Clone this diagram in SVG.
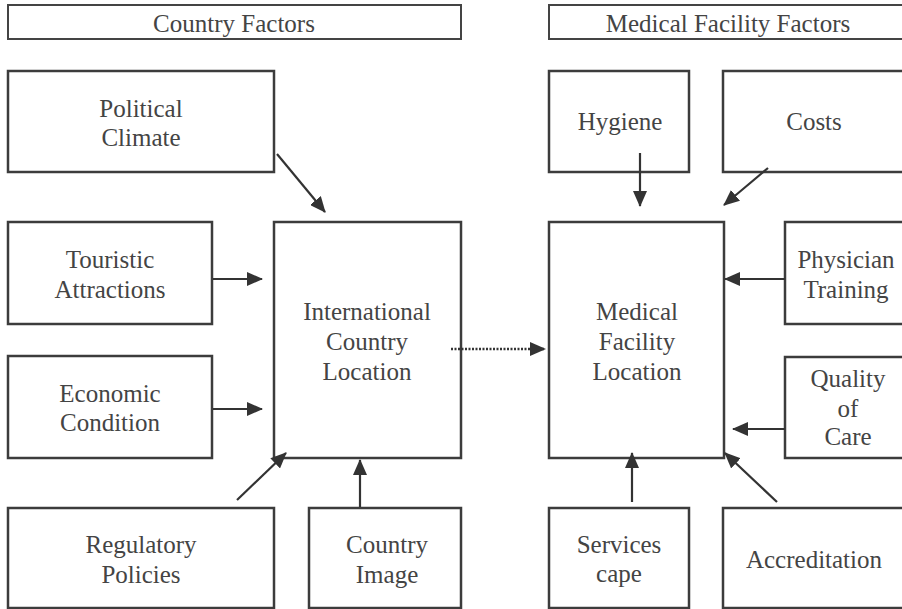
<svg xmlns="http://www.w3.org/2000/svg" width="902" height="609" viewBox="0 0 902 609">
  <style>
    .box { fill: #ffffff; stroke: #3c3c3c; stroke-width: 2.5; }
    .title { fill: #ffffff; stroke: #444444; stroke-width: 2; }
    text { font-family: "Liberation Serif", "Times New Roman", serif; font-size: 25px; fill: #444444; text-anchor: middle; }
    .link { stroke: #333333; stroke-width: 2.2; fill: none; marker-end: url(#head); }
    .dotted { stroke: #333333; stroke-width: 2.5; fill: none; stroke-dasharray: 2 1.5; marker-end: url(#head); }
  </style>
  <defs>
    <marker id="head" markerUnits="userSpaceOnUse" markerWidth="16" markerHeight="14" refX="15" refY="7" orient="auto">
      <path d="M0,0 L16,7 L0,14 z" fill="#333333"/>
    </marker>
  </defs>
  <rect width="902" height="609" fill="#ffffff"/>

  <!-- section headings -->
  <g id="country-factors">
    <rect class="title" x="8" y="5" width="453" height="34"/>
    <text x="234" y="32">Country Factors</text>
  </g>
  <g id="medical-facility-factors">
    <rect class="title" x="549" y="5" width="360" height="34"/>
    <text x="728" y="32">Medical Facility Factors</text>
  </g>

  <!-- country factor nodes -->
  <g id="political-climate">
    <rect class="box" x="8" y="71" width="266" height="101"/>
    <text x="141" y="117">Political</text>
    <text x="141" y="146">Climate</text>
  </g>
  <g id="touristic-attractions">
    <rect class="box" x="8" y="222" width="204" height="102"/>
    <text x="110" y="268">Touristic</text>
    <text x="110" y="298">Attractions</text>
  </g>
  <g id="economic-condition">
    <rect class="box" x="8" y="356" width="204" height="102"/>
    <text x="110" y="402">Economic</text>
    <text x="110" y="431">Condition</text>
  </g>
  <g id="international-country-location">
    <rect class="box" x="274" y="222" width="187" height="236"/>
    <text x="367" y="320">International</text>
    <text x="367" y="350">Country</text>
    <text x="367" y="380">Location</text>
  </g>
  <g id="regulatory-policies">
    <rect class="box" x="8" y="508" width="266" height="100"/>
    <text x="141" y="553">Regulatory</text>
    <text x="141" y="583">Policies</text>
  </g>
  <g id="country-image">
    <rect class="box" x="309" y="508" width="152" height="100"/>
    <text x="387" y="553">Country</text>
    <text x="387" y="583">Image</text>
  </g>

  <!-- medical facility nodes -->
  <g id="hygiene">
    <rect class="box" x="549" y="71" width="140" height="101"/>
    <text x="620" y="130">Hygiene</text>
  </g>
  <g id="costs">
    <rect class="box" x="723" y="71" width="186" height="101"/>
    <text x="814" y="130">Costs</text>
  </g>
  <g id="medical-facility-location">
    <rect class="box" x="549" y="222" width="175" height="236"/>
    <text x="637" y="320">Medical</text>
    <text x="637" y="350">Facility</text>
    <text x="637" y="380">Location</text>
  </g>
  <g id="physician-training">
    <rect class="box" x="785" y="222" width="124" height="102"/>
    <text x="846" y="268">Physician</text>
    <text x="846" y="298">Training</text>
  </g>
  <g id="quality-of-care">
    <rect class="box" x="785" y="357" width="124" height="101"/>
    <text x="848" y="387">Quality</text>
    <text x="848" y="417">of</text>
    <text x="848" y="445">Care</text>
  </g>
  <g id="servicescape">
    <rect class="box" x="549" y="508" width="140" height="100"/>
    <text x="619" y="553">Services</text>
    <text x="619" y="582">cape</text>
  </g>
  <g id="accreditation">
    <rect class="box" x="723" y="508" width="186" height="100"/>
    <text x="814" y="568">Accreditation</text>
  </g>

  <!-- connectors -->
  <g id="connectors">
    <line class="link" x1="277" y1="154" x2="325" y2="212"/>
    <line class="link" x1="213" y1="279" x2="262" y2="279"/>
    <line class="link" x1="213" y1="409" x2="262" y2="409"/>
    <line class="link" x1="237" y1="500" x2="286" y2="453"/>
    <line class="link" x1="360" y1="507" x2="360" y2="460"/>
    <line class="dotted" x1="451" y1="349" x2="545" y2="349"/>
    <line class="link" x1="640" y1="153" x2="640" y2="206"/>
    <line class="link" x1="768" y1="168" x2="724" y2="205"/>
    <line class="link" x1="785" y1="279" x2="725" y2="279"/>
    <line class="link" x1="785" y1="429" x2="733" y2="429"/>
    <line class="link" x1="632" y1="502" x2="632" y2="453"/>
    <line class="link" x1="777" y1="502" x2="725" y2="453"/>
  </g>
</svg>
